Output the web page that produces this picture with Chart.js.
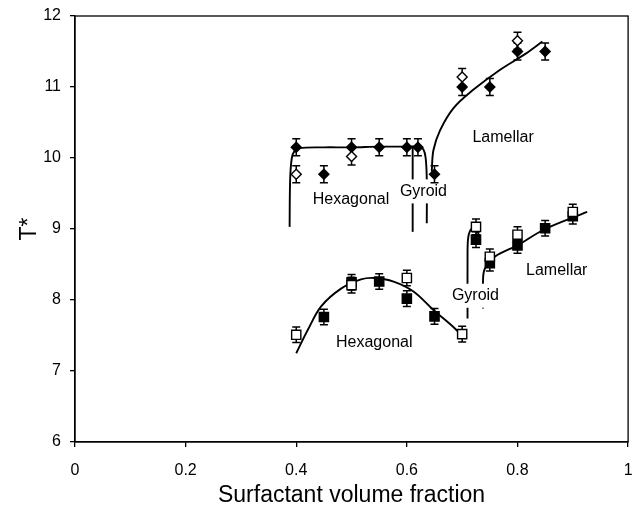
<!DOCTYPE html>
<html>
<head>
<meta charset="utf-8">
<script src="https://cdn.jsdelivr.net/npm/chart.js@4.4.0/dist/chart.umd.min.js"></script>
<style>
  html, body { margin: 0; padding: 0; background: #fff; }
</style>
</head>
<body>
<canvas id="myChart" width="636" height="510"></canvas>
<script>
const xTicks = [0, 0.2, 0.4, 0.6, 0.8, 1];
const yTicks = [6, 7, 8, 9, 10, 11, 12];

// measured points, upper set (diamonds)
const filledDiamondX = [0.40, 0.45, 0.50, 0.55, 0.60, 0.62, 0.65, 0.70, 0.75, 0.80, 0.85];
const filledDiamondY = [10.15, 9.77, 10.15, 10.15, 10.15, 10.15, 9.77, 11.0, 11.0, 11.5, 11.5];
const openDiamondX = [0.40, 0.50, 0.70, 0.80];
const openDiamondY = [9.77, 10.02, 11.14, 11.65];

// measured points, lower set (squares)
const filledSquareX = [0.45, 0.50, 0.55, 0.60, 0.65, 0.725, 0.75, 0.80, 0.85, 0.90];
const filledSquareY = [7.76, 8.25, 8.26, 8.02, 7.77, 8.85, 8.52, 8.77, 9.01, 9.18];
const openSquareX = [0.40, 0.50, 0.60, 0.70, 0.725, 0.75, 0.80, 0.90];
const openSquareY = [7.51, 8.21, 8.31, 7.52, 9.03, 8.61, 8.92, 9.24];

const errDiamond = 0.12;
const errSquare = 0.11;

// phase boundary curves
const hexUpperX = [0.388, 0.389, 0.392, 0.397, 0.405, 0.45, 0.50, 0.55, 0.60, 0.622, 0.630, 0.634, 0.636, 0.636];
const hexUpperY = [9.03, 9.70, 10.00, 10.10, 10.14, 10.15, 10.15, 10.16, 10.16, 10.16, 10.12, 10.0, 9.7, 9.08];
const gyroUpperX = [0.6105, 0.6105];
const gyroUpperY = [10.15, 8.96];
const lamUpperX = [0.645, 0.648, 0.66, 0.684, 0.72, 0.768, 0.815, 0.845];
const lamUpperY = [9.81, 10.11, 10.39, 10.70, 10.96, 11.24, 11.47, 11.64];
const hexLowerX = [0.40, 0.421, 0.445, 0.481, 0.517, 0.541, 0.576, 0.612, 0.648, 0.684, 0.702];
const hexLowerY = [7.25, 7.58, 7.91, 8.16, 8.29, 8.31, 8.26, 8.12, 7.86, 7.62, 7.48];
const gyroLowerX = [0.7097, 0.7097, 0.7105, 0.714, 0.721, 0.728, 0.7318];
const gyroLowerY = [7.74, 8.60, 8.85, 8.97, 9.02, 8.97, 8.80];
const lamLowerX = [0.7378, 0.7378, 0.741, 0.759, 0.80, 0.85, 0.926];
const lamLowerY = [7.88, 8.30, 8.44, 8.61, 8.77, 9.00, 9.24];

const phaseLabels = ['Hexagonal', 'Gyroid', 'Lamellar', 'Hexagonal', 'Gyroid', 'Lamellar'];
const labelX = [0.499, 0.630, 0.774, 0.541, 0.724, 0.871];
const labelY = [9.42, 9.53, 10.29, 7.40, 8.06, 8.41];

const fontFamily = '"Liberation Sans", Arial, Helvetica, sans-serif';

function pts(xs, ys) {
    return xs.map((x, i) => ({ x: x, y: ys[i] }));
}

function curve(xs, ys, last) {
    return {
        type: 'line',
        data: pts(xs, ys),
        borderColor: '#000',
        borderWidth: 1.9,
        pointRadius: 0,
        fill: false,
        tension: 0.35,
        order: last ? 11 : 12,
        lastCurve: !!last
    };
}

function markers(xs, ys, style, filled, radius, err) {
    return {
        type: 'scatter',
        data: pts(xs, ys),
        pointStyle: style,
        pointRadius: radius,
        pointBackgroundColor: filled ? '#000' : '#fff',
        pointBorderColor: '#000',
        pointBorderWidth: 1.4,
        err: err,
        order: filled ? 2 : 1
    };
}

// frame, then labels and error bars drawn between curves and markers
const overlay = {
    id: 'overlay',
    beforeDatasetsDraw(chart) {
        const a = chart.chartArea, ctx = chart.ctx;
        ctx.save();
        ctx.strokeStyle = '#000';
        ctx.lineWidth = 1.3;
        ctx.strokeRect(a.left, a.top, a.right - a.left, a.bottom - a.top);
        ctx.restore();
    },
    afterDatasetDraw(chart, args) {
        if (!chart.data.datasets[args.index].lastCurve) return;
        const ctx = chart.ctx, xs = chart.scales.x, ys = chart.scales.y;
        ctx.save();
        ctx.font = '16px ' + fontFamily;
        ctx.textAlign = 'center';
        ctx.textBaseline = 'middle';
        phaseLabels.forEach((t, i) => {
            const px = xs.getPixelForValue(labelX[i]);
            const py = ys.getPixelForValue(labelY[i]);
            const w = ctx.measureText(t).width;
            ctx.fillStyle = '#fff';
            ctx.fillRect(px - w / 2 - 3, py - 12, w + 6, 24);
            ctx.fillStyle = '#000';
            ctx.fillText(t, px, py);
        });
        ctx.strokeStyle = '#000';
        ctx.lineWidth = 1.5;
        chart.data.datasets.forEach(ds => {
            if (!ds.err) return;
            ds.data.forEach(p => {
                const px = xs.getPixelForValue(p.x);
                const top = ys.getPixelForValue(p.y + ds.err);
                const bot = ys.getPixelForValue(p.y - ds.err);
                ctx.beginPath();
                ctx.moveTo(px, top); ctx.lineTo(px, bot);
                ctx.moveTo(px - 4, top); ctx.lineTo(px + 4, top);
                ctx.moveTo(px - 4, bot); ctx.lineTo(px + 4, bot);
                ctx.stroke();
            });
        });
        ctx.restore();
    }
};

const config = {
    type: 'scatter',
    data: {
        datasets: [
            markers(openDiamondX, openDiamondY, 'rectRot', false, 5, errDiamond),
            markers(filledDiamondX, filledDiamondY, 'rectRot', true, 5, errDiamond),
            markers(openSquareX, openSquareY, 'rect', false, 6.5, errSquare),
            markers(filledSquareX, filledSquareY, 'rect', true, 6.5, errSquare),
            curve(hexUpperX, hexUpperY, true),
            curve(gyroUpperX, gyroUpperY),
            curve(lamUpperX, lamUpperY),
            curve(hexLowerX, hexLowerY),
            curve(gyroLowerX, gyroLowerY),
            curve(lamLowerX, lamLowerY)
        ]
    },
    options: {
        responsive: false,
        animation: false,
        layout: { padding: { top: 16, right: 3, left: 0, bottom: 0 } },
        plugins: {
            legend: { display: false },
            tooltip: { enabled: false }
        },
        scales: {
            x: {
                type: 'linear',
                min: 0,
                max: 1,
                afterBuildTicks: s => { s.ticks = xTicks.map(v => ({ value: v })); },
                afterFit: s => { s.height = 68; s.paddingLeft = 0; s.paddingRight = 0; },
                grid: { drawOnChartArea: false, tickLength: 5, color: '#000', lineWidth: 1.3 },
                border: { color: '#000', width: 1.3 },
                ticks: {
                    color: '#000',
                    padding: 14,
                    font: { family: fontFamily, size: 16 },
                    callback: v => String(v)
                },
                title: {
                    display: true,
                    text: 'Surfactant volume fraction',
                    color: '#000',
                    font: { family: fontFamily, size: 23 },
                    padding: { top: 0, bottom: 1 }
                }
            },
            y: {
                type: 'linear',
                min: 6,
                max: 12,
                afterBuildTicks: s => { s.ticks = yTicks.map(v => ({ value: v })); },
                afterFit: s => { s.width = 75; s.paddingTop = 0; s.paddingBottom = 0; },
                grid: { drawOnChartArea: false, tickLength: 5, color: '#000', lineWidth: 1.3 },
                border: { color: '#000', width: 1.3 },
                ticks: {
                    color: '#000',
                    padding: 9,
                    font: { family: fontFamily, size: 16 },
                    callback: v => String(v)
                },
                title: {
                    display: true,
                    text: 'T*',
                    color: '#000',
                    font: { family: fontFamily, size: 23 },
                    padding: { top: 16, bottom: 0 }
                }
            }
        }
    },
    plugins: [overlay]
};

const myChart = new Chart(document.getElementById('myChart'), config);
</script>
</body>
</html>
